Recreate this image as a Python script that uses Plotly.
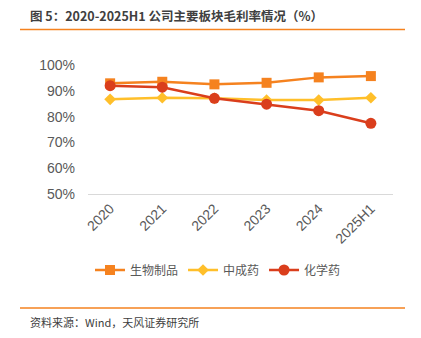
import plotly.graph_objects as go

categories = ["2020", "2021", "2022", "2023", "2024", "2025H1"]
bio = [92.9, 93.5, 92.5, 93.1, 95.2, 95.7]
tcm = [86.7, 87.3, 87.1, 86.4, 86.4, 87.3]
chem = [92.0, 91.4, 87.1, 84.8, 82.3, 77.4]
yticks = [50, 60, 70, 80, 90, 100]

FONT = "Noto Sans CJK SC"
TICKFONT = "Liberation Sans"
W, H = 421, 338
L, R, T, B = 88, 28, 65, 144
pw, ph = W - L - R, H - T - B

def px(x):
    return (x - L) / pw

def py(y):
    return (H - B - y) / ph

fig = go.Figure()
fig.add_trace(go.Scatter(x=categories, y=bio, name="生物制品", mode="lines+markers",
                         line=dict(color="#F5821F", width=2.5),
                         marker=dict(symbol="square", size=10, color="#F5821F")))
fig.add_trace(go.Scatter(x=categories, y=tcm, name="中成药", mode="lines+markers",
                         line=dict(color="#FFBF2A", width=2.5),
                         marker=dict(symbol="diamond", size=9, color="#FFBF2A")))
fig.add_trace(go.Scatter(x=categories, y=chem, name="化学药", mode="lines+markers",
                         line=dict(color="#DA3E1C", width=2.5),
                         marker=dict(symbol="circle", size=11, color="#DA3E1C")))

fig.update_layout(
    width=W, height=H,
    margin=dict(l=L, r=R, t=T, b=B),
    paper_bgcolor="white", plot_bgcolor="white",
    font=dict(family=FONT, color="#595959"),
    showlegend=True,
    legend=dict(orientation="h", x=px(90), y=py(270), xanchor="left", yanchor="middle",
                font=dict(size=12, color="#595959"), itemwidth=30, tracegroupgap=0),
    xaxis=dict(type="category", tickangle=-45, showgrid=False, showline=True,
               linecolor="#D9D9D9", linewidth=1, ticks="",
               tickfont=dict(size=14, color="#595959", family=TICKFONT)),
    yaxis=dict(range=[50, 100], tickvals=yticks, ticktext=[f"{v}%" for v in yticks],
               showgrid=False, zeroline=False, showline=False, ticks="",
               tickfont=dict(size=14, color="#595959", family=TICKFONT), ticklabelstandoff=12),
    shapes=[
        dict(type="line", xref="paper", yref="paper", x0=px(20), x1=px(405), y0=py(29.5), y1=py(29.5),
             line=dict(color="#F5821F", width=1.5)),
        dict(type="line", xref="paper", yref="paper", x0=px(20), x1=px(405), y0=py(308), y1=py(308),
             line=dict(color="#F5821F", width=1.5)),
    ],
    annotations=[
        dict(text="<b>图 5：2020-2025H1 公司主要板块毛利率情况（%）</b>", xref="paper", yref="paper",
             x=px(28), y=py(15), xanchor="left", yanchor="middle", showarrow=False,
             font=dict(size=12.5, color="#404040", family=FONT)),
        dict(text="资料来源：Wind，天风证券研究所", xref="paper", yref="paper",
             x=px(28), y=py(322), xanchor="left", yanchor="middle", showarrow=False,
             font=dict(size=11, color="#404040", family=FONT)),
    ],
)

fig.write_html("out.html")
